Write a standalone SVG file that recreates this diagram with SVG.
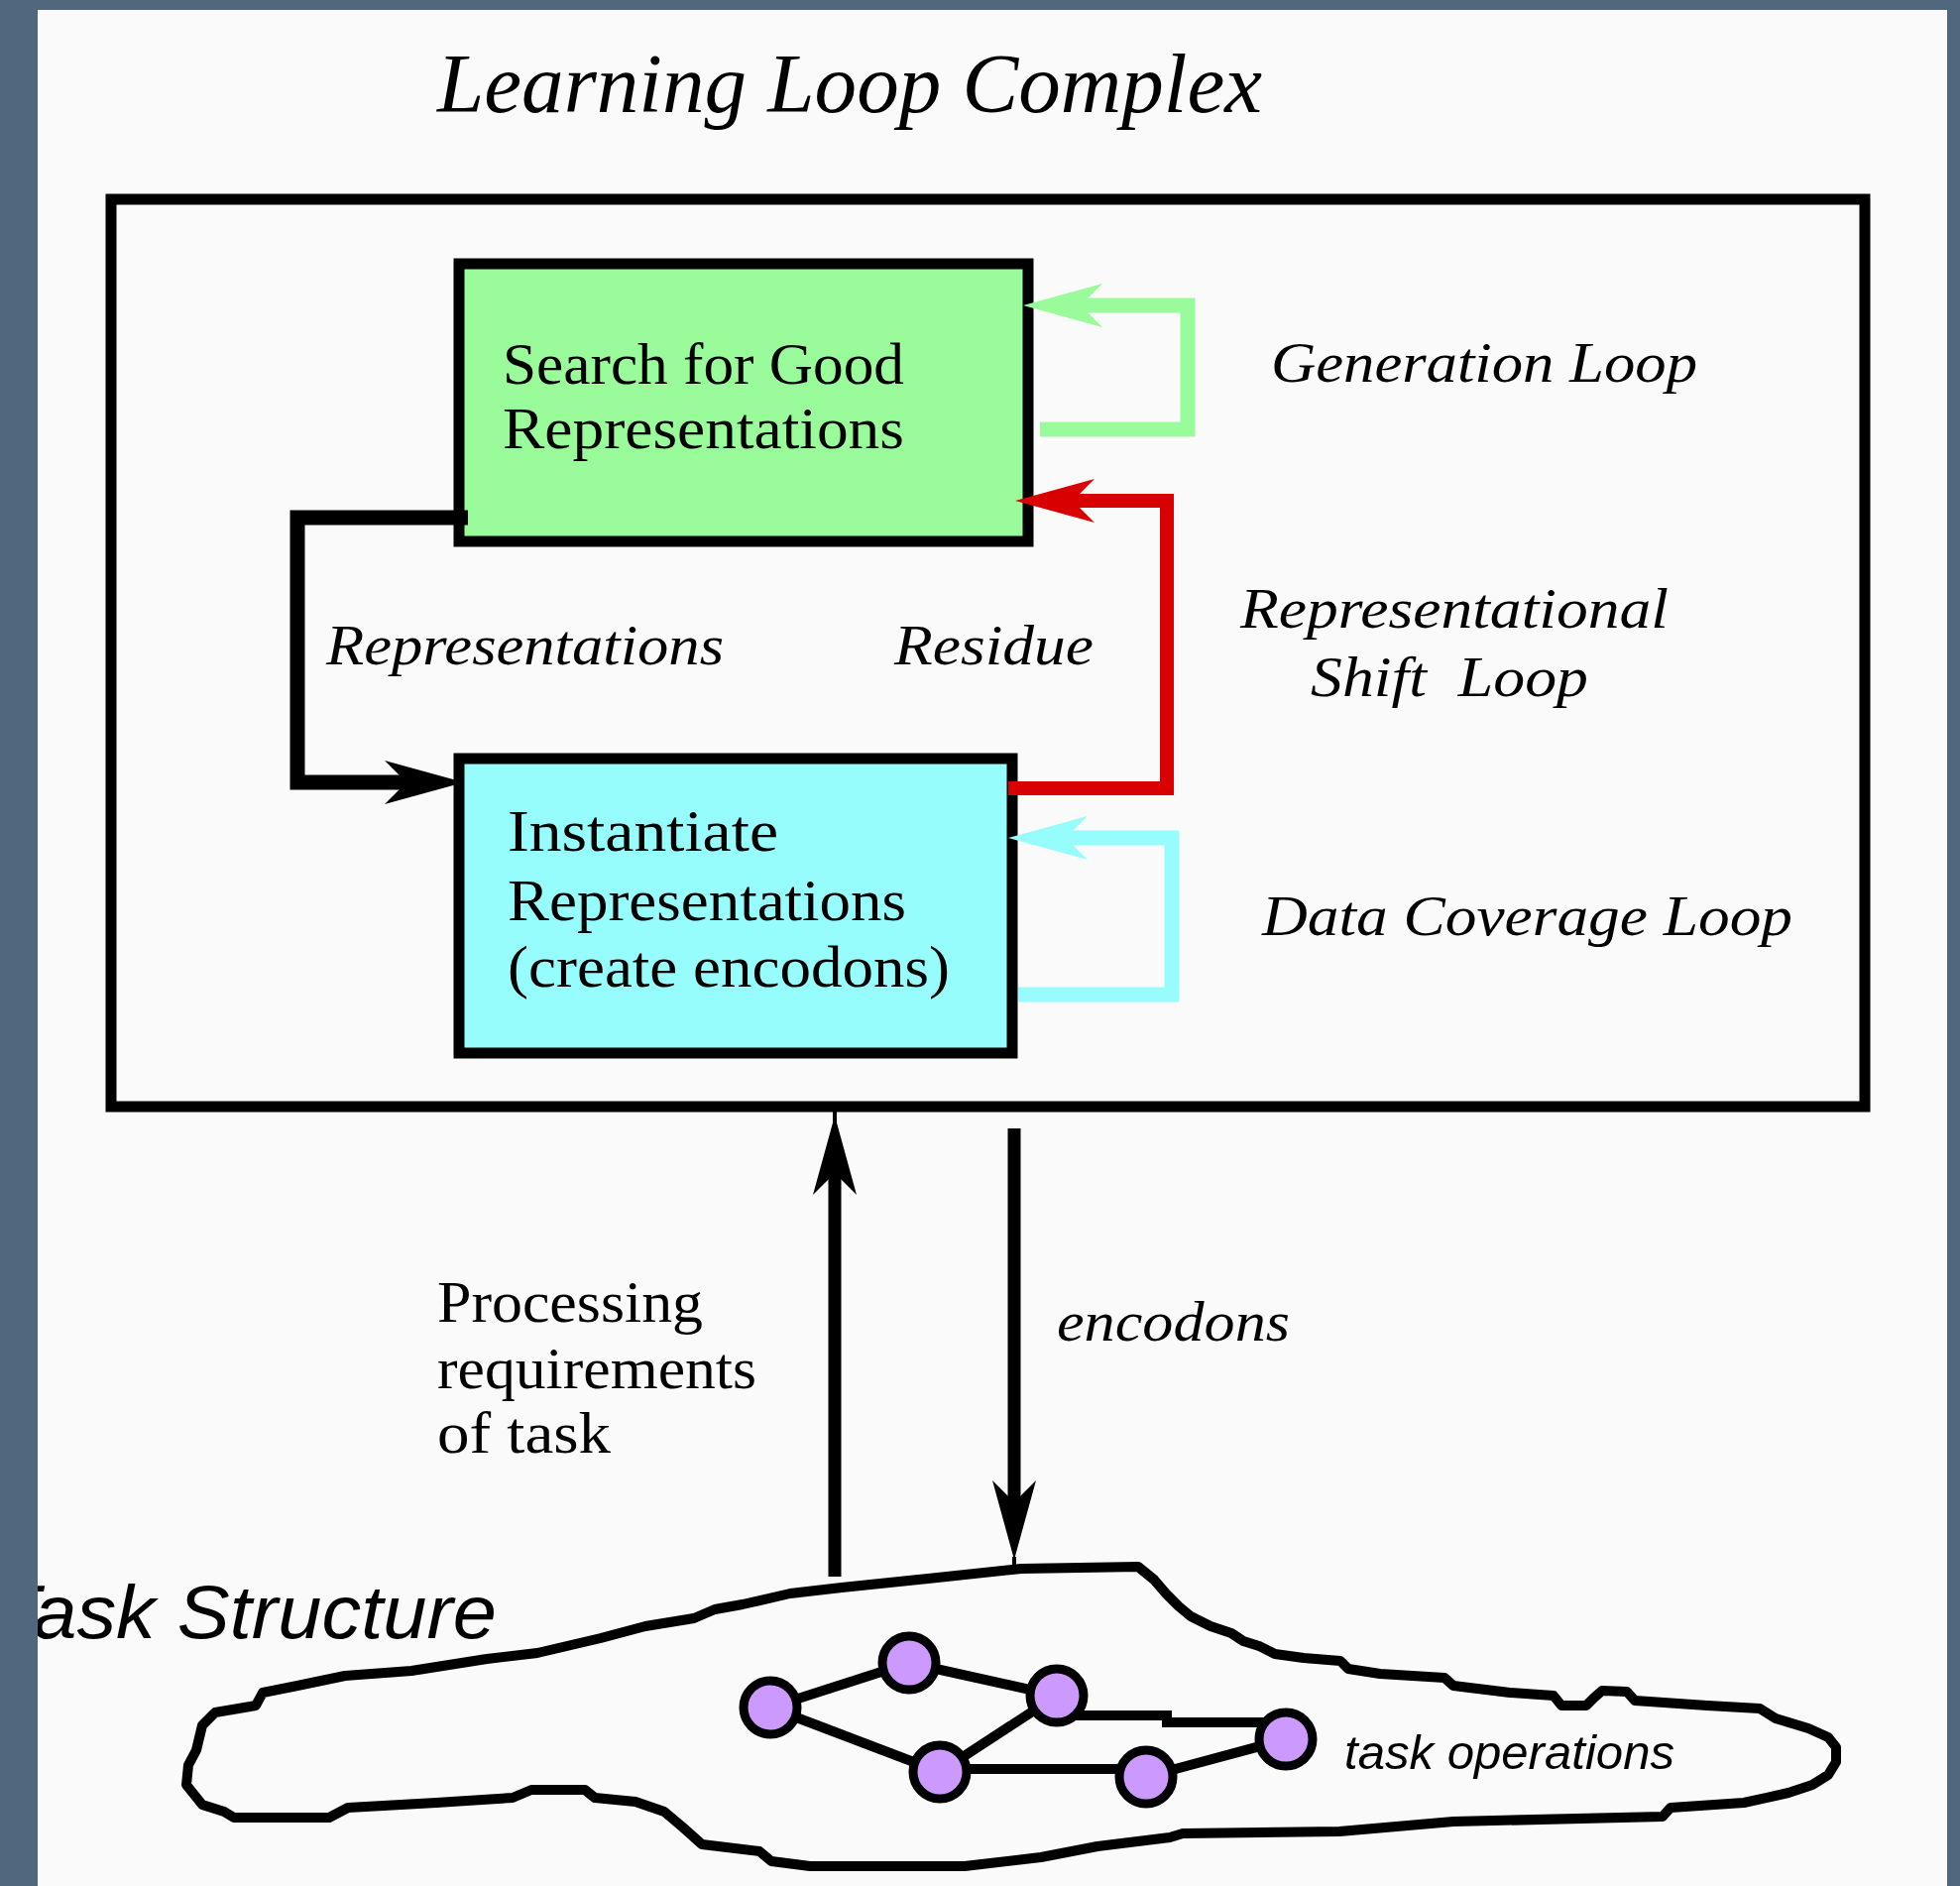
<svg xmlns="http://www.w3.org/2000/svg" width="1977" height="1902" viewBox="0 0 1977 1902">
<defs>
<style>
.serif{font-family:"Liberation Serif","Times New Roman",serif;fill:#000}
.ital{font-family:"Liberation Serif","Times New Roman",serif;font-style:italic;fill:#000}
.sansi{font-family:"Liberation Sans",Arial,sans-serif;font-style:italic;fill:#000}
.box{stroke:#000;stroke-width:11}
.conn{fill:none;stroke-linejoin:miter}
.edge{stroke:#000;stroke-width:10;fill:none}
.op{fill:#cc99ff;stroke:#000;stroke-width:9}
</style>
<marker id="ahK" markerUnits="userSpaceOnUse" viewBox="-25 -25 90 50" markerWidth="90" markerHeight="50" refX="0" refY="0" orient="auto"><path d="M58,0 L-22,-22 L0,0 L-22,22 Z" fill="#000"/></marker>
<marker id="ahR" markerUnits="userSpaceOnUse" viewBox="-25 -25 90 50" markerWidth="90" markerHeight="50" refX="0" refY="0" orient="auto"><path d="M58,0 L-22,-22 L0,0 L-22,22 Z" fill="#d80000"/></marker>
<marker id="ahG" markerUnits="userSpaceOnUse" viewBox="-25 -25 90 50" markerWidth="90" markerHeight="50" refX="0" refY="0" orient="auto"><path d="M58,0 L-22,-22 L0,0 L-22,22 Z" fill="#99fb99"/></marker>
<marker id="ahC" markerUnits="userSpaceOnUse" viewBox="-25 -25 90 50" markerWidth="90" markerHeight="50" refX="0" refY="0" orient="auto"><path d="M58,0 L-22,-22 L0,0 L-22,22 Z" fill="#96fcfc"/></marker>
</defs>

<rect x="0" y="0" width="1977" height="1902" fill="#fafafa"/>

<text id="title" class="ital" x="441" y="113" font-size="84" textLength="832" lengthAdjust="spacingAndGlyphs">Learning Loop Complex</text>

<g id="frame">
<rect x="112" y="201" width="1769" height="915" fill="none" stroke="#000" stroke-width="11"/>
</g>

<g id="node-search">
<rect class="box" x="463" y="266" width="574" height="280" fill="#99fb99"/>
<text class="serif" x="507" y="387" font-size="60" textLength="405" lengthAdjust="spacingAndGlyphs">Search for Good</text>
<text class="serif" x="507" y="452" font-size="60" textLength="405" lengthAdjust="spacingAndGlyphs">Representations</text>
</g>

<g id="node-instantiate">
<rect class="box" x="463" y="765" width="558" height="297" fill="#96fcfc"/>
<text class="serif" x="512" y="858" font-size="60" textLength="273" lengthAdjust="spacingAndGlyphs">Instantiate</text>
<text class="serif" x="512" y="928" font-size="60" textLength="402" lengthAdjust="spacingAndGlyphs">Representations</text>
<text class="serif" x="512" y="995" font-size="60" textLength="446" lengthAdjust="spacingAndGlyphs">(create encodons)</text>
</g>

<g id="connectors">
<path class="conn" d="M472,522 H300 V789 H410" stroke="#000" stroke-width="15" marker-end="url(#ahK)"/>
<path class="conn" d="M1017,795 H1177 V505 H1082" stroke="#d80000" stroke-width="14" marker-end="url(#ahR)"/>
<path class="conn" d="M1049,433 H1198 V308 H1090" stroke="#99fb99" stroke-width="15" marker-end="url(#ahG)"/>
<path class="conn" d="M1027,1003 H1182 V845 H1075" stroke="#96fcfc" stroke-width="15" marker-end="url(#ahC)"/>
<path class="conn" d="M842,1590 V1183" stroke="#000" stroke-width="13" marker-end="url(#ahK)"/>
<path class="conn" d="M1023,1138 V1515" stroke="#000" stroke-width="13" marker-end="url(#ahK)"/>
<path class="conn" d="M1023,1570 V1582" stroke="#000" stroke-width="4"/>
<path class="conn" d="M842,1121 V1135" stroke="#000" stroke-width="4"/>
<g id="task-edges">
<line class="edge" x1="777" y1="1722" x2="917" y2="1677"/>
<line class="edge" x1="777" y1="1722" x2="948" y2="1787"/>
<line class="edge" x1="917" y1="1677" x2="1066" y2="1710"/>
<line class="edge" x1="1066" y1="1710" x2="948" y2="1787"/>
<path class="edge" d="M1070,1730 H1177 V1737 H1297"/>
<line class="edge" x1="948" y1="1784" x2="1156" y2="1784"/>
<line class="edge" x1="1156" y1="1792" x2="1297" y2="1754"/>
</g>
</g>

<g id="labels">
<text class="ital" x="1282" y="385" font-size="58" textLength="430" lengthAdjust="spacingAndGlyphs">Generation Loop</text>
<text class="ital" x="1251" y="633" font-size="58" textLength="432" lengthAdjust="spacingAndGlyphs">Representational</text>
<text class="ital" x="1322" y="702" font-size="58" textLength="280" lengthAdjust="spacingAndGlyphs" style="white-space:pre">Shift  Loop</text>
<text class="ital" x="1273" y="943" font-size="58" textLength="535" lengthAdjust="spacingAndGlyphs">Data Coverage Loop</text>
<text class="ital" x="329" y="670" font-size="58" textLength="401" lengthAdjust="spacingAndGlyphs">Representations</text>
<text class="ital" x="902" y="670" font-size="58" textLength="201" lengthAdjust="spacingAndGlyphs">Residue</text>
<text class="ital" x="1066" y="1352" font-size="58" textLength="235" lengthAdjust="spacingAndGlyphs">encodons</text>
<text class="serif" x="441" y="1333" font-size="60" textLength="268" lengthAdjust="spacingAndGlyphs">Processing</text>
<text class="serif" x="441" y="1400" font-size="60" textLength="322" lengthAdjust="spacingAndGlyphs">requirements</text>
<text class="serif" x="441" y="1465" font-size="60" textLength="175" lengthAdjust="spacingAndGlyphs">of task</text>
</g>

<g id="task-structure">
<path d="M188,1800 L190,1780 L198,1765 L204,1740 L217,1727 L258,1720 L265,1707 L300,1700 L348,1690 L415,1685 L491,1673 L542,1667 L606,1652 L651,1640 L700,1632 L721,1623 L749,1618 L797,1607 L849,1601 L936,1592 L1030,1582 L1148,1580 L1164,1593 L1176,1607 L1189,1620 L1201,1630 L1221,1640 L1242,1647 L1254,1655 L1270,1660 L1286,1668 L1315,1672 L1352,1675 L1360,1683 L1392,1688 L1457,1692 L1466,1700 L1523,1707 L1567,1710 L1575,1720 L1600,1720 L1608,1712 L1616,1705 L1641,1706 L1649,1715 L1722,1720 L1775,1723 L1791,1733 L1824,1743 L1844,1752 L1852,1762 L1852,1777 L1844,1790 L1828,1800 L1804,1808 L1759,1818 L1685,1823 L1677,1832 L1466,1837 L1351,1847 L1193,1849 L1180,1853 L1107,1862 L1050,1873 L973,1882 L817,1882 L778,1877 L766,1867 L708,1860 L689,1843 L670,1827 L641,1817 L600,1813 L590,1805 L536,1805 L517,1813 L440,1818 L351,1823 L332,1833 L236,1833 L226,1827 L204,1820 Z" fill="none" stroke="#000" stroke-width="10" stroke-linejoin="round"/>
<text class="sansi" x="-8" y="1652" font-size="76" textLength="509" lengthAdjust="spacingAndGlyphs">Task Structure</text>
<text class="sansi" x="1356" y="1784" font-size="49" textLength="333" lengthAdjust="spacingAndGlyphs">task operations</text>
</g>

<g id="op1"><circle class="op" cx="777" cy="1722" r="27"/></g>
<g id="op2"><circle class="op" cx="917" cy="1677" r="27"/></g>
<g id="op3"><circle class="op" cx="1066" cy="1710" r="27"/></g>
<g id="op4"><circle class="op" cx="948" cy="1787" r="27"/></g>
<g id="op5"><circle class="op" cx="1156" cy="1792" r="27"/></g>
<g id="op6"><circle class="op" cx="1297" cy="1754" r="27"/></g>

<g id="page-border" fill="#50677e">
<rect x="0" y="0" width="38" height="1902"/>
<rect x="0" y="0" width="1977" height="10"/>
<rect x="1964" y="0" width="13" height="1902"/>
</g>
</svg>
